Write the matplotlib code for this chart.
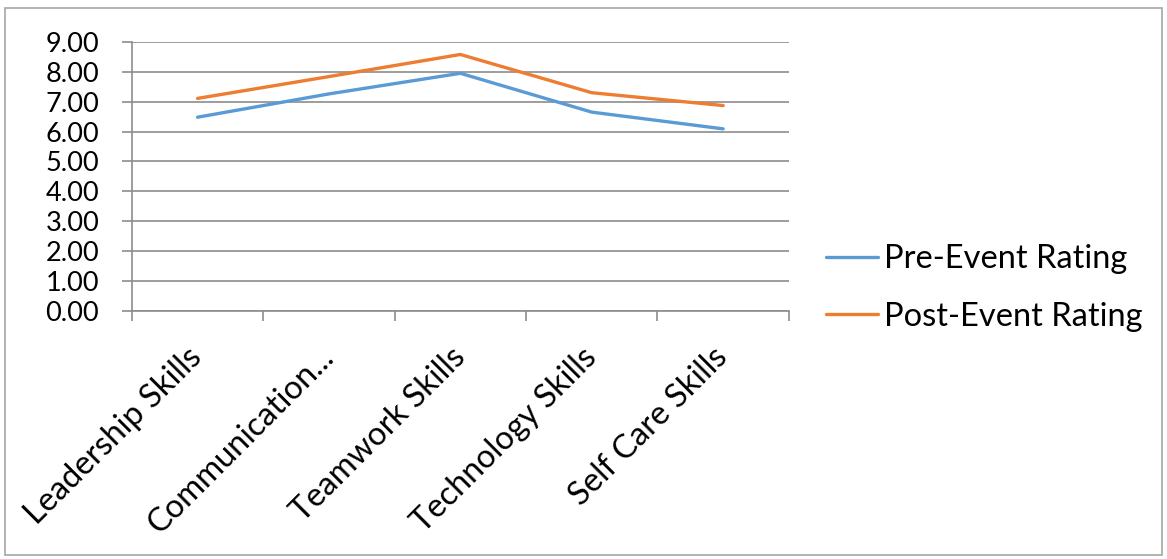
import numpy as np
import matplotlib.pyplot as plt
from matplotlib.patches import Rectangle

categories = ["Leadership Skills", "Communication...", "Teamwork Skills",
              "Technology Skills", "Self Care Skills"]
pre_event = [6.48, 7.26, 7.95, 6.65, 6.09]
post_event = [7.11, 7.84, 8.58, 7.30, 6.87]
y_ticks = np.arange(0, 10, 1)

plt.rcParams['font.family'] = ['Lato', 'DejaVu Sans']

fig = plt.figure(figsize=(11.67, 5.59), dpi=100)
ax = fig.add_axes([0.113, 0.444, 0.563, 0.481])

x = np.arange(len(categories))
ax.plot(x, pre_event, color="#5B9BD5", lw=2.4, label="Pre-Event Rating", solid_capstyle="round")
ax.plot(x, post_event, color="#ED7D31", lw=2.4, label="Post-Event Rating", solid_capstyle="round")

ax.set_xlim(-0.5, len(categories) - 0.5)
ax.set_ylim(0, 9)
ax.set_yticks(y_ticks)
ax.set_yticklabels([f"{v:.2f}" for v in y_ticks], fontsize=19.5)
ax.yaxis.grid(True, color="#8c8c8c", lw=1.2)
ax.set_axisbelow(True)

# category boundaries get the tick marks, labels sit at centres
ax.set_xticks(np.arange(-0.5, len(categories)), minor=False)
ax.set_xticklabels([])
ax.set_xticks(x, minor=True)
ax.set_xticklabels(categories, minor=True, rotation=45, ha="right", va="center",
                   rotation_mode="anchor", fontsize=23.5)
ax.tick_params(axis="x", which="major", length=7.5, color="#8c8c8c", width=1.2, direction="out")
ax.tick_params(axis="x", which="minor", length=0, pad=30)
ax.tick_params(axis="y", length=7.5, color="#8c8c8c", width=1.2, pad=16)

for s in ["top", "right"]:
    ax.spines[s].set_visible(False)
ax.spines["left"].set_color("#8c8c8c")
ax.spines["left"].set_linewidth(1.2)
ax.spines["bottom"].set_color("#8c8c8c")
ax.spines["bottom"].set_linewidth(1.2)

ax.legend(loc="center left", bbox_to_anchor=(1.056, 0.085), frameon=False, fontsize=23.5,
          borderpad=0, borderaxespad=0, handlelength=1.6, handletextpad=0.2,
          labelspacing=0.85)

fig.patches.append(Rectangle((0.004, 0.007), 0.992, 0.979, transform=fig.transFigure,
                             fill=False, edgecolor="#a6a6a6", lw=1.2))

fig.savefig("out.png", dpi=100)
